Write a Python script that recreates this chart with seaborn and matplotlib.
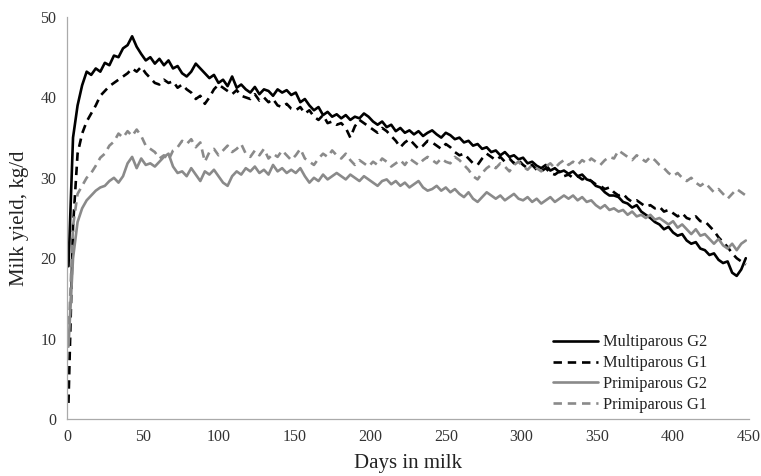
import numpy as np
import pandas as pd
import matplotlib
matplotlib.use("Agg")
import matplotlib.pyplot as plt
import seaborn as sns

# Days in milk (every 3rd day)
days = list(range(1, 449, 3))

multi_g2 = [
    19, 35, 39, 41.5, 43.2, 42.8, 43.6, 43.2, 44.3, 44.0,
    45.2, 45.0, 46.1, 46.5, 47.6, 46.3, 45.4, 44.6, 45.0, 44.2,
    44.8, 44.0, 44.6, 43.6, 43.9, 43.0, 42.6, 43.2, 44.2, 43.6,
    43.0, 42.4, 42.8, 41.8, 42.2, 41.4, 42.6, 41.2, 41.6, 41.0,
    40.6, 41.3, 40.4, 41.0, 40.8, 40.2, 41.0, 40.6, 40.9, 40.3,
    40.6, 39.4, 39.8, 39.0, 38.4, 38.8, 37.8, 38.2, 37.6, 37.9,
    37.4, 37.8, 37.2, 37.6, 37.4, 38.0, 37.6, 37.0, 36.6, 37.0,
    36.3, 36.6, 35.8, 36.2, 35.6, 35.9, 35.4, 35.8, 35.2, 35.6,
    35.9, 35.4, 35.0, 35.6, 35.3, 34.8, 35.0, 34.4, 34.6, 34.0,
    34.2, 33.6, 33.8, 33.2, 33.4, 32.8, 33.2, 32.6, 32.8, 32.3,
    32.5, 31.8, 32.0, 31.5, 31.2, 31.6, 30.9, 31.2, 30.7, 30.9,
    30.5, 30.8, 30.2, 30.4, 29.8, 29.6, 29.0, 28.8, 28.2, 27.8,
    27.8, 27.6, 27.0, 26.8, 26.3, 26.6, 25.8, 25.4, 25.0, 24.5,
    24.2, 23.6, 23.9, 23.2, 22.8, 23.0, 22.2, 21.8, 22.0, 21.2,
    21.0, 20.4, 20.6, 19.8, 19.4, 19.6, 18.2, 17.8, 18.6, 20.0,
]

multi_g1 = [
    2, 24, 33, 35.5, 37.0, 38.0, 39.0, 40.2, 40.8, 41.4,
    41.8, 42.2, 42.6, 43.0, 43.6, 43.2, 43.8, 43.0, 42.4, 41.8,
    41.6, 42.2, 41.8, 42.0, 41.2, 41.6, 41.0, 40.6, 39.8, 40.2,
    39.2, 40.0, 41.0, 41.6, 41.2, 40.8, 40.4, 40.9, 40.2, 40.0,
    39.8, 40.4, 39.6, 40.0, 39.4, 39.8, 39.0, 38.8, 39.2, 38.6,
    38.4, 38.8, 38.0, 38.4, 37.6, 37.2, 37.8, 36.8, 37.0, 36.6,
    36.8, 36.2, 35.0, 36.4, 37.2, 36.8, 36.4, 36.0, 35.6, 36.2,
    35.8, 35.2, 34.6, 33.8, 34.4, 34.8, 34.2, 33.6, 34.0, 34.6,
    34.4, 34.0, 33.6, 34.2, 33.8, 33.2, 32.8, 33.0, 32.4, 31.8,
    31.6, 32.4, 33.0, 32.6, 32.2, 32.6, 32.0, 32.4, 31.8, 32.2,
    31.6, 31.2, 31.6, 31.0, 30.8, 31.2, 30.6, 30.4, 30.8, 30.2,
    30.4, 30.0, 30.2, 29.8, 30.0, 29.6, 29.2, 29.0, 28.6, 28.8,
    28.2, 27.8, 28.0, 27.4, 27.0, 27.2, 26.8, 26.4, 26.6, 26.2,
    26.4, 25.8, 26.0, 25.6, 25.2, 25.6, 25.0, 24.8, 25.2, 24.6,
    24.6, 24.0, 23.4, 22.6, 22.0, 21.4, 20.6, 20.0, 19.6, 19.2,
]

primi_g2 = [
    9, 20, 24.5, 26.2, 27.2, 27.8, 28.4, 28.8, 29.0, 29.6,
    30.0, 29.4, 30.2, 31.8, 32.6, 31.2, 32.4, 31.6, 31.8, 31.4,
    32.0, 32.6, 33.0, 31.4, 30.6, 30.8, 30.2, 31.2, 30.4, 29.6,
    30.8, 30.4, 31.0, 30.2, 29.4, 29.0, 30.2, 30.8, 30.4, 31.2,
    30.8, 31.4, 30.6, 31.0, 30.4, 31.6, 30.8, 31.2, 30.6, 31.0,
    30.6, 31.2, 30.2, 29.4, 30.0, 29.6, 30.4, 29.8, 30.2, 30.6,
    30.2, 29.8, 30.4, 30.0, 29.6, 30.2, 29.8, 29.4, 29.0, 29.6,
    29.8, 29.2, 29.6, 29.0, 29.4, 28.8, 29.2, 29.6, 28.8, 28.4,
    28.6, 29.0, 28.4, 28.8, 28.2, 28.6, 28.0, 27.6, 28.2, 27.4,
    27.0, 27.6, 28.2, 27.8, 27.4, 27.8, 27.2, 27.6, 28.0, 27.4,
    27.2, 27.6, 27.0, 27.4, 26.8, 27.2, 27.6, 27.0, 27.4, 27.8,
    27.4, 27.8, 27.2, 27.6, 27.0, 27.2, 26.6, 26.2, 26.6, 26.0,
    26.2, 25.8, 26.0, 25.4, 25.8, 25.2, 25.4, 25.0, 25.4, 24.8,
    25.0, 24.6, 24.2, 24.6, 23.8, 24.2, 23.6, 23.0, 23.6, 22.8,
    23.0, 22.4, 21.8, 22.4, 21.6, 21.2, 21.8, 21.0, 21.8, 22.2,
]

primi_g1 = [
    10, 24, 28, 29, 30.0, 30.6, 31.5, 32.5, 33.0, 34.0,
    34.5, 35.5, 35.0, 35.8, 35.2, 36.0, 35.2, 34.0, 33.6, 33.2,
    32.4, 32.8, 32.2, 33.4, 33.8, 34.6, 34.2, 34.8, 33.8, 34.4,
    32.0, 33.2, 33.6, 32.8, 33.4, 34.0, 33.2, 33.6, 34.2, 33.0,
    32.6, 33.4, 32.8, 33.6, 32.4, 33.0, 32.6, 33.4, 32.8, 32.2,
    32.8, 33.6, 32.4, 32.0, 31.6, 32.4, 33.0, 32.6, 33.4, 32.8,
    32.4, 33.0, 32.2, 31.6, 32.2, 31.8, 31.4, 32.0, 31.6, 32.4,
    32.0, 31.4, 31.8, 32.2, 31.6, 32.4, 32.0, 31.6, 32.2, 32.6,
    32.2, 31.8, 32.4, 32.0, 31.8, 32.6, 32.2, 31.6, 31.0, 30.2,
    29.8, 30.6, 31.2, 31.6, 31.2, 31.8, 31.4, 30.8, 31.6, 32.0,
    31.4, 31.0, 31.6, 31.2, 30.8, 31.4, 31.8, 31.2, 31.8, 32.2,
    31.6, 32.0, 31.6, 32.2, 31.8, 32.4, 32.0, 31.6, 32.2, 32.6,
    32.4, 33.4, 33.0, 32.6, 32.2, 32.8, 32.4, 32.0, 32.6, 32.2,
    31.6, 31.2, 30.6, 30.2, 30.6, 30.0, 29.6, 30.0, 29.4, 29.0,
    29.4, 28.8, 28.2, 28.6, 28.0, 27.4, 28.0, 28.6, 28.2, 27.8,
]

series_names = ["Multiparous G2", "Multiparous G1", "Primiparous G2", "Primiparous G1"]
x_ticks = [0, 50, 100, 150, 200, 250, 300, 350, 400, 450]
y_ticks = [0, 10, 20, 30, 40, 50]

df = pd.concat([
    pd.DataFrame({"day": days, "yield": vals, "group": name})
    for name, vals in zip(series_names, [multi_g2, multi_g1, primi_g2, primi_g1])
])

sns.set_style("white")
plt.rcParams["font.family"] = ["Liberation Serif", "DejaVu Serif"]

fig = plt.figure(figsize=(7.61, 4.76), dpi=100)
ax = fig.add_axes([0.088, 0.1197, 0.896, 0.8446])

GRAY = "#8a8a8a"
palette = {"Multiparous G2": "black", "Multiparous G1": "black",
           "Primiparous G2": GRAY, "Primiparous G1": GRAY}
dashes = {"Multiparous G2": "", "Multiparous G1": (3.2, 2.2),
          "Primiparous G2": "", "Primiparous G1": (3.2, 2.2)}

sns.lineplot(data=df, x="day", y="yield", hue="group", style="group",
             hue_order=series_names, style_order=series_names,
             palette=palette, dashes=dashes, linewidth=1.9, ax=ax)

ax.set_xlim(0, 450)
ax.set_ylim(0, 50)
ax.set_xticks(x_ticks)
ax.set_yticks(y_ticks)
ax.set_xlabel("Days in milk", fontsize=15, color="#222222", labelpad=6)
ax.set_ylabel("Milk yield, kg/d", fontsize=15, color="#222222", labelpad=8)
ax.tick_params(axis="both", labelsize=11.5, colors="#333333", length=4,
               width=0.8, direction="out", color="#aaaaaa")
for side in ["top", "right"]:
    ax.spines[side].set_visible(False)
for side in ["left", "bottom"]:
    ax.spines[side].set_color("#aaaaaa")
    ax.spines[side].set_linewidth(0.9)

leg = ax.legend(loc="lower right", bbox_to_anchor=(0.96, -0.022), frameon=False,
                fontsize=11.8, handlelength=2.7, handletextpad=0.3,
                labelspacing=0.3)
for t in leg.get_texts():
    t.set_color("#222222")

fig.savefig("out.png", dpi=100)
